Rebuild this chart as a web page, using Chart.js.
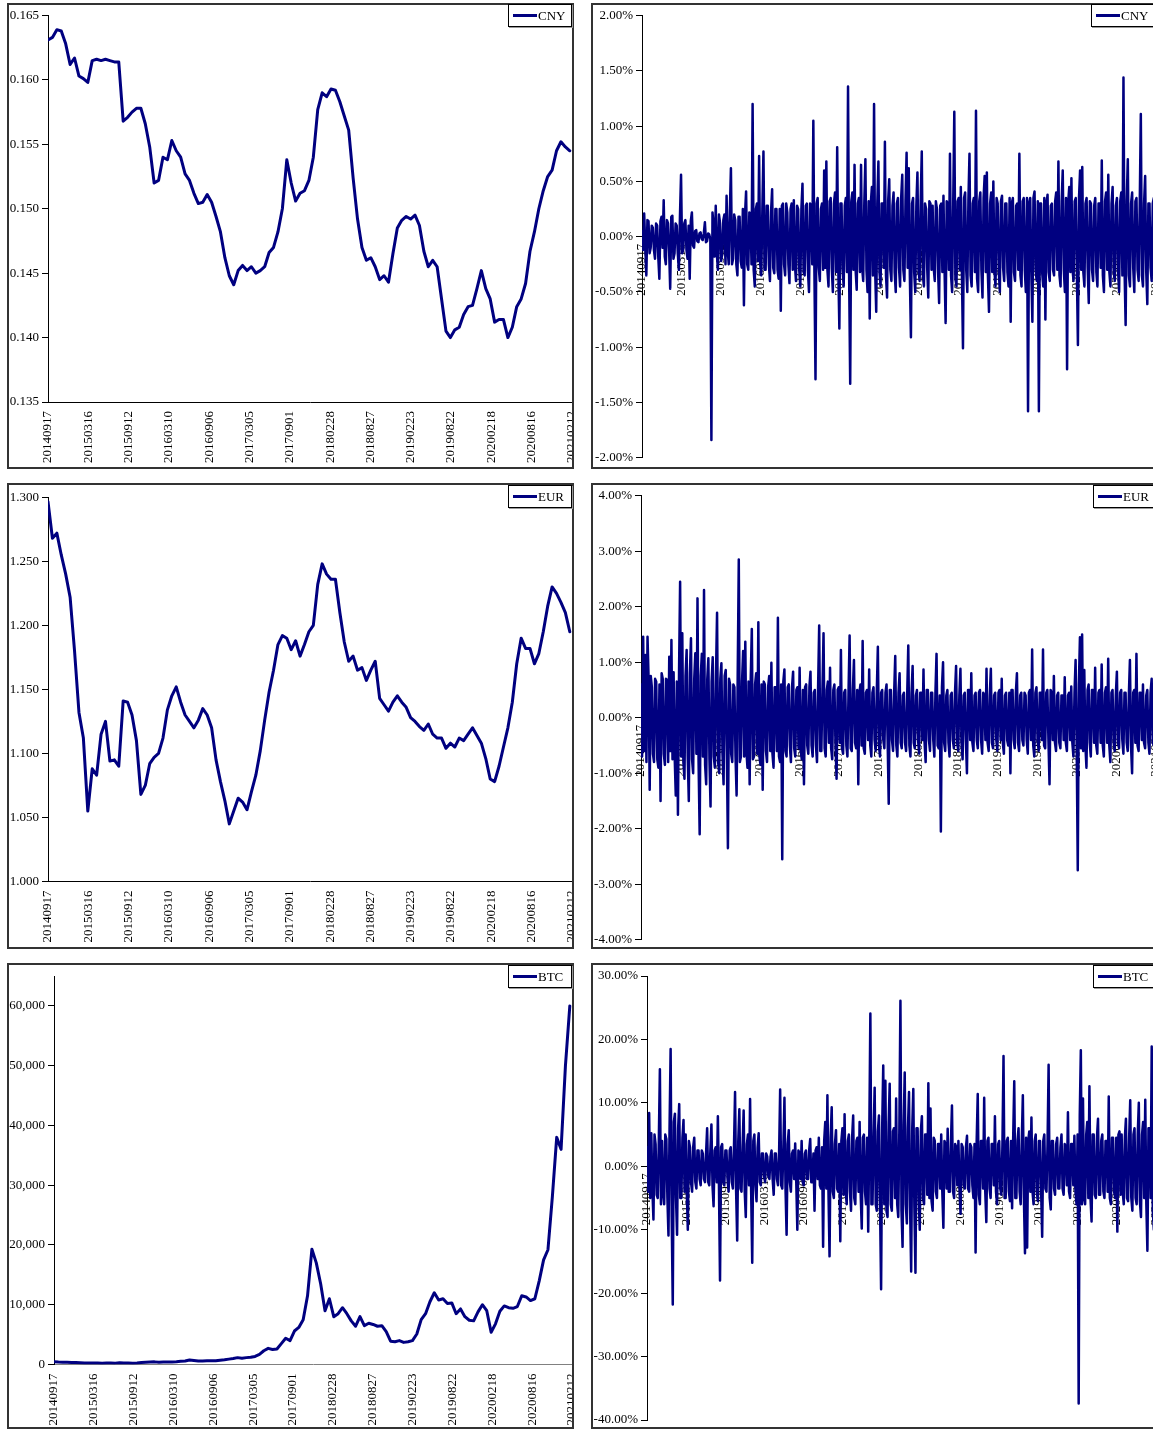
<!DOCTYPE html>
<html>
<head>
<meta charset="utf-8">
<script src="https://cdn.jsdelivr.net/npm/chart.js@4.4.1/dist/chart.umd.min.js"></script>
<style>
html, body { margin: 0; padding: 0; background: #fff; overflow: hidden; width: 1153px; height: 1429px; }
.panel { position: absolute; box-sizing: border-box; width: 567px; height: 466px; border: 2px solid #333; background: #fff; }
.panel canvas { position: absolute; left: 0; top: 0; }
.legend { position: absolute; height: 23px; width: 64px; box-sizing: border-box; border: 1px solid #000; box-shadow: 1px 1px 0 #999; background: #fff; font: 13px 'Liberation Serif', 'Times New Roman', serif; color: #000; white-space: nowrap; }
.legend i { position: absolute; left: 4px; top: 9px; width: 24px; height: 3px; background: #000080; }
.legend span { position: absolute; left: 29px; top: 3px; line-height: 15px; }
</style>
</head>
<body>
<script>
const NAVY = '#000080'

// tick labels of the date axis, one every 180 days
const dateLabels = ['20140917', '20150316', '20150912', '20160310', '20160906', '20170305', '20170901',
    '20180228', '20180827', '20190223', '20190822', '20200218', '20200816', '20210212']
const btcTicks = [0, 10000, 20000, 30000, 40000, 50000, 60000]
const DAY_MAX = 2370
const LEVEL_STEP = 20   // days between level readings
const RET_STEP = 10     // days between return readings (A at day 10i, B at day 10i+5)

const cnyLevel = [0.1631, 0.1633, 0.1639, 0.1638, 0.1628, 0.1612, 0.1617, 0.1603, 0.1601, 0.1598,
    0.1615, 0.1616, 0.1615, 0.1616, 0.1615, 0.1614, 0.1614, 0.1568, 0.1571, 0.1575,
    0.1578, 0.1578, 0.1566, 0.1548, 0.1520, 0.1522, 0.1540, 0.1538, 0.1553, 0.1545,
    0.1540, 0.1527, 0.1522, 0.1512, 0.1504, 0.1505, 0.1511, 0.1505, 0.1494, 0.1482,
    0.1462, 0.1448, 0.1441, 0.1452, 0.1456, 0.1452, 0.1455, 0.1450, 0.1452, 0.1455,
    0.1466, 0.1470, 0.1482, 0.1500, 0.1538, 0.1520, 0.1506, 0.1512, 0.1514, 0.1522,
    0.1540, 0.1577, 0.1590, 0.1587, 0.1593, 0.1592, 0.1583, 0.1572, 0.1561, 0.1524,
    0.1492, 0.1470, 0.1460, 0.1462, 0.1455, 0.1445, 0.1448, 0.1443, 0.1465, 0.1485,
    0.1491, 0.1494, 0.1492, 0.1495, 0.1487, 0.1467, 0.1455, 0.1460, 0.1455, 0.1430,
    0.1405, 0.1400, 0.1406, 0.1408, 0.1418, 0.1424, 0.1425, 0.1438, 0.1452, 0.1438,
    0.1430, 0.1412, 0.1414, 0.1414, 0.1400, 0.1408, 0.1424, 0.1430, 0.1442, 0.1467,
    0.1482, 0.1500, 0.1514, 0.1525, 0.1530, 0.1545, 0.1552, 0.1548, 0.1545]

const eurLevel = [1.2966, 1.268, 1.272, 1.255, 1.240, 1.222, 1.180, 1.132, 1.112, 1.055,
    1.088, 1.083, 1.115, 1.125, 1.094, 1.095, 1.090, 1.141, 1.140, 1.130,
    1.110, 1.068, 1.075, 1.092, 1.097, 1.100, 1.112, 1.134, 1.145, 1.152,
    1.140, 1.130, 1.125, 1.120, 1.126, 1.135, 1.130, 1.120, 1.095, 1.078,
    1.063, 1.045, 1.055, 1.065, 1.062, 1.056, 1.070, 1.083, 1.102, 1.126,
    1.148, 1.165, 1.185, 1.192, 1.190, 1.181, 1.188, 1.176, 1.185, 1.195,
    1.200, 1.232, 1.248, 1.240, 1.236, 1.236, 1.210, 1.187, 1.172, 1.176,
    1.165, 1.167, 1.157, 1.165, 1.172, 1.143, 1.138, 1.133, 1.140, 1.145,
    1.140, 1.136, 1.128, 1.125, 1.121, 1.118, 1.123, 1.115, 1.112, 1.112,
    1.104, 1.108, 1.105, 1.112, 1.110, 1.115, 1.120, 1.114, 1.108, 1.096,
    1.080, 1.078, 1.090, 1.105, 1.120, 1.140, 1.170, 1.190, 1.182, 1.182,
    1.170, 1.178, 1.195, 1.215, 1.230, 1.225, 1.218, 1.210, 1.195]

const btcLevel = [470, 400, 390, 380, 350, 320, 280, 250, 240, 260,
    240, 230, 240, 240, 230, 280, 260, 240, 230, 240,
    330, 370, 420, 440, 380, 420, 420, 430, 450, 530,
    580, 750, 660, 580, 600, 630, 610, 640, 720, 780,
    900, 1000, 1150, 1050, 1150, 1200, 1350, 1700, 2300, 2700,
    2500, 2600, 3500, 4400, 4000, 5600, 6200, 7500, 11500, 19300,
    17000, 13500, 9000, 11000, 8000, 8500, 9500, 8500, 7300, 6400,
    8000, 6500, 6900, 6700, 6400, 6500, 5500, 3900, 3800, 4000,
    3700, 3800, 4000, 5100, 7500, 8500, 10500, 12000, 10800, 11000,
    10200, 10300, 8500, 9300, 8000, 7400, 7300, 8800, 10000, 9000,
    5400, 6800, 8900, 9800, 9500, 9400, 9700, 11500, 11300, 10700,
    11000, 14000, 17500, 19200, 28000, 38000, 36000, 50000, 60000]

// daily returns in percent
const cnyRetA = [0.05, 0.21, -0.35, 0.14, -0.10, 0.08, -0.20, 0.10, -0.38, 0.18,
    0.33, -0.25, 0.12, -0.47, 0.19, -0.15, 0.10, -0.30, 0.56, -0.12,
    0.15, -0.20, -0.38, 0.22, -0.10, 0.06, -0.05, 0.04, -0.03, 0.13,
    -0.04, 0.02, -1.84, 0.10, 0.28, -0.30, 0.12, -0.15, 0.20, 0.37,
    -0.25, 0.62, -0.20, 0.15, -0.35, 0.18, -0.28, -0.62, 0.41, -0.30,
    0.20, 1.20, -0.45, 0.30, 0.73, -0.35, 0.77, -0.30, 0.28, -0.40,
    0.43, -0.33, 0.25, -0.38, -0.67, 0.30, -0.35, 0.22, -0.42, 0.30,
    0.33, -0.40, 0.25, -0.45, 0.48, -0.35, 0.30, -0.50, 0.28, 1.05,
    -1.29, 0.35, -0.40, 0.30, 0.60, 0.68, -0.45, 0.35, -0.50, 0.40,
    0.81, -0.83, 0.30, -0.45, 0.35, 1.36, -1.33, 0.40, 0.65, -0.48,
    0.35, 0.65, -0.40, 0.70, -0.50, -0.74, 0.45, 1.20, -0.68, 0.68,
    -0.45, 0.30, 0.86, -0.55, 0.52, -0.40, 0.40, -0.50, 0.35, -0.45,
    0.56, -0.40, 0.76, 0.62, -0.91, 0.35, -0.50, 0.58, -0.40, 0.77,
    -0.45, 0.25, -0.55, 0.30, 0.28, -0.40, 0.25, -0.60, 0.30, 0.37,
    -0.78, 0.30, 0.75, -0.50, 1.13, -0.45, 0.35, 0.45, -1.01, 0.40,
    -0.50, 0.75, -0.45, 0.35, 1.14, -0.50, 0.40, -0.55, 0.55, 0.58,
    -0.68, 0.40, 0.50, -0.45, 0.30, -0.50, 0.37, -0.40, 0.30, -0.45,
    -0.77, 0.35, -0.40, 0.30, 0.75, -0.45, 0.35, -0.50, -1.58, 0.35,
    -0.77, 0.41, -0.40, -1.58, 0.30, -0.45, -0.75, 0.38, -0.40, 0.30,
    -0.35, 0.40, 0.68, -0.45, 0.60, -0.50, -1.20, 0.45, 0.53, -0.40,
    0.35, -0.98, 0.60, 0.63, -0.45, 0.35, -0.60, 0.30, -0.40, 0.35,
    -0.45, 0.30, 0.69, -0.50, 0.40, 0.56, -0.45, 0.45, -0.40, 0.35,
    -0.50, 0.40, 1.44, -0.80, 0.70, -0.45, 0.40, -0.50, 0.35, -0.40,
    1.11, -0.45, 0.55, -0.61, 0.30, -0.40, 0.35, -0.30]

const cnyRetB = [-0.12, -0.08, 0.15, -0.15, 0.10, -0.12, 0.12, -0.18, 0.14, -0.10,
    -0.18, 0.15, -0.12, 0.18, -0.20, 0.12, -0.15, 0.18, -0.15, 0.12,
    -0.12, 0.10, 0.14, -0.08, 0.05, -0.04, 0.03, -0.02, 0.03, -0.05,
    0.03, -0.02, 0.22, -0.18, -0.15, 0.20, -0.22, 0.15, -0.25, -0.12,
    0.22, -0.25, 0.20, -0.25, 0.18, -0.22, 0.25, 0.20, -0.25, 0.22,
    -0.25, -0.30, 0.25, -0.22, -0.25, 0.25, -0.30, 0.28, -0.25, 0.22,
    -0.28, 0.25, -0.30, 0.25, 0.28, -0.25, 0.30, -0.25, 0.25, -0.30,
    -0.25, 0.28, -0.30, 0.25, -0.32, 0.28, -0.30, 0.30, -0.25, -0.32,
    0.30, -0.28, 0.25, -0.30, -0.28, -0.30, 0.32, -0.28, 0.30, -0.32,
    -0.28, 0.30, -0.30, 0.28, -0.32, -0.35, 0.32, -0.30, -0.30, 0.30,
    -0.32, -0.28, 0.30, -0.30, 0.32, 0.30, -0.35, -0.30, 0.30, -0.32,
    0.30, -0.28, -0.35, 0.32, -0.30, 0.28, -0.32, 0.30, -0.28, 0.35,
    -0.30, 0.32, -0.28, -0.35, 0.30, -0.32, 0.28, -0.30, 0.32, -0.35,
    0.30, -0.28, 0.32, -0.30, -0.28, 0.32, -0.30, 0.28, -0.32, -0.30,
    0.32, -0.30, -0.35, 0.30, -0.38, 0.32, -0.30, -0.32, 0.35, -0.30,
    0.32, -0.35, 0.30, -0.32, -0.38, 0.32, -0.30, 0.35, -0.32, -0.35,
    0.30, -0.32, -0.30, 0.35, -0.30, 0.32, -0.28, 0.30, -0.32, 0.35,
    0.30, -0.32, 0.28, -0.30, -0.35, 0.32, -0.30, 0.35, 0.30, -0.32,
    0.35, -0.30, 0.32, 0.30, -0.32, 0.35, 0.30, -0.32, 0.28, -0.30,
    0.32, -0.30, -0.35, 0.32, -0.30, 0.35, 0.30, -0.32, -0.30, 0.32,
    -0.30, 0.35, -0.30, -0.32, 0.30, -0.28, 0.32, -0.30, 0.28, -0.32,
    0.30, -0.28, -0.35, 0.32, -0.30, -0.32, 0.30, -0.32, 0.28, -0.30,
    0.32, -0.35, -0.30, 0.32, -0.35, 0.30, -0.28, 0.32, -0.30, 0.28,
    -0.35, 0.30, -0.32, 0.30, -0.28, 0.30, -0.25]

const eurRetA = [0.60, 1.46, 1.13, 1.46, -1.30, 0.55, -0.80, 0.65, -0.90, -1.50,
    0.70, -0.85, 0.68, 1.10, 1.40, 0.82, -1.40, -1.75, 2.45, 1.52,
    -1.10, 1.22, -1.50, 1.43, -1.00, 1.16, 2.15, -2.10, 1.15, 2.30,
    -1.20, 1.07, -1.60, 1.09, -0.90, 1.89, -1.00, 0.98, -1.20, 0.86,
    -2.35, 0.60, -0.80, 0.55, -1.40, 2.85, -0.70, 1.20, 1.37, -0.90,
    -1.20, 1.60, -0.70, 0.80, 1.72, -0.85, -1.30, 0.60, -0.80, 0.75,
    0.99, -0.90, 0.55, 1.80, -0.80, -2.55, 0.87, -0.70, 0.60, -0.80,
    0.83, -0.70, 0.55, 0.90, -0.75, -1.20, 0.60, -0.65, 0.83, -0.70,
    0.50, -0.80, 1.66, -0.60, 1.52, -0.70, 0.65, 0.90, -0.75, 0.60,
    -1.10, 0.55, 1.22, -0.65, 0.50, -0.70, 1.48, -0.60, 1.04, -0.55,
    -1.20, 0.60, 1.38, -0.65, 0.50, 0.87, -0.70, 0.55, -0.60, 1.28,
    -0.70, 0.50, -0.55, 0.60, -1.55, 0.50, -0.60, 1.11, -0.70, 0.80,
    -0.55, 0.45, -0.60, 1.30, -0.70, 0.93, -0.55, 0.50, -0.65, 0.45,
    0.87, -0.80, 0.50, -0.60, 0.45, -0.70, 1.15, -0.55, -2.05, 1.00,
    -0.60, 0.50, -0.70, 0.45, -0.55, 0.93, -0.60, 0.88, -0.75, 0.45,
    -1.00, 0.50, 0.80, -0.60, 0.45, -0.55, 0.50, -0.65, 0.40, 0.88,
    -0.60, 0.88, -0.55, 0.45, -0.60, 0.50, 0.70, -0.65, 0.45, -0.50,
    -1.00, 0.50, -0.55, 0.80, -0.60, 0.45, -0.50, 0.40, -0.65, 0.50,
    1.23, -0.70, 0.55, -0.60, 0.45, 1.23, -0.55, 0.50, -1.20, 0.45,
    0.75, -0.60, 0.45, -0.55, 0.40, 0.73, -0.60, 0.45, 0.56, -0.70,
    1.04, -2.75, 1.45, 1.50, 0.86, -0.90, 0.60, -0.70, 0.50, 0.90,
    -0.65, 0.50, 0.96, -0.70, 0.55, 1.06, -0.80, 0.50, -0.60, 0.83,
    -0.55, 0.50, -0.65, 0.45, -0.60, 1.04, -1.00, 0.50, 1.15, -0.60,
    0.45, 0.60, -0.55, 0.50, -0.65, 0.70, -0.50, 0.45]

const eurRetB = [-0.70, -0.60, -0.80, 0.70, 0.75, -0.65, 0.70, -0.75, 0.60, 0.80,
    -0.65, 0.70, -0.80, -0.60, -0.75, -0.70, 0.65, 0.80, -0.70, -0.80,
    0.75, -0.70, 0.80, -0.75, 0.70, -0.65, -0.80, 0.75, -0.70, -0.85,
    0.70, -0.75, 0.65, -0.70, 0.75, -0.80, 0.70, -0.65, 0.75, -0.60,
    0.70, -0.65, 0.60, -0.70, 0.75, -0.80, 0.65, -0.70, -0.60, 0.65,
    0.70, -0.75, 0.60, -0.65, -0.70, 0.60, 0.65, -0.60, 0.55, -0.60,
    -0.65, 0.55, -0.60, -0.70, 0.60, 0.65, -0.60, 0.55, -0.50, 0.55,
    -0.55, 0.50, -0.55, -0.60, 0.50, 0.55, -0.50, 0.55, -0.50, 0.45,
    -0.50, 0.55, -0.60, 0.50, -0.55, 0.50, -0.45, -0.55, 0.50, -0.45,
    0.50, -0.45, -0.55, 0.45, -0.50, 0.45, -0.55, 0.50, -0.45, 0.50,
    0.45, -0.50, -0.55, 0.45, -0.40, -0.50, 0.45, -0.40, 0.45, -0.50,
    0.45, -0.40, 0.45, -0.40, 0.50, -0.40, 0.45, -0.50, 0.45, -0.45,
    0.40, -0.45, 0.40, -0.50, 0.45, -0.45, 0.40, -0.40, 0.45, -0.40,
    -0.45, 0.50, -0.40, 0.45, -0.40, 0.45, -0.50, 0.40, 0.55, -0.45,
    0.40, -0.45, 0.40, -0.40, 0.45, -0.45, 0.40, -0.45, 0.40, -0.40,
    0.50, -0.40, -0.45, 0.40, -0.40, 0.45, -0.40, 0.45, -0.40, -0.45,
    0.40, -0.45, 0.40, -0.40, 0.45, -0.40, -0.45, 0.40, -0.40, 0.45,
    0.50, -0.40, 0.45, -0.45, 0.40, -0.40, 0.45, -0.40, 0.45, -0.40,
    -0.50, 0.45, -0.40, 0.45, -0.40, -0.50, 0.45, -0.40, 0.50, -0.40,
    -0.45, 0.40, -0.45, 0.40, -0.40, -0.45, 0.40, -0.40, -0.45, 0.45,
    -0.50, 0.60, -0.55, -0.60, -0.50, 0.50, -0.45, 0.50, -0.45, -0.50,
    0.45, -0.45, -0.50, 0.45, -0.45, -0.50, 0.45, -0.45, 0.40, -0.45,
    0.45, -0.40, 0.45, -0.45, 0.40, -0.50, 0.45, -0.45, -0.50, 0.45,
    -0.40, -0.45, 0.40, -0.45, 0.45, -0.45, 0.40]

const btcRetA = [3.0, 8.4, 5.2, -8.4, 3.5, -5.0, 15.3, 4.0, -6.0, 4.3,
    -10.9, 18.5, -21.8, 8.3, -10.8, 9.8, -5.0, 7.3, 5.0, -10.0,
    3.0, -4.0, 4.5, -3.5, 2.5, -3.0, 2.0, -2.5, 6.0, -3.0,
    6.6, -6.3, 3.0, 7.9, -18.0, 3.5, -3.0, 2.5, -4.0, 3.0,
    -3.5, 11.7, -11.7, 9.0, -4.0, 8.8, -8.0, 5.0, 10.6, -15.2,
    5.0, -5.5, 5.2, -3.0, 2.0, -2.5, 1.5, -2.0, 2.5, -4.5,
    2.0, -3.0, 12.1, -3.5, 10.8, -10.8, 5.7, -4.0, 2.5, 3.6,
    -10.0, 2.0, 4.0, -3.0, 2.5, -2.0, 4.3, -2.5, -7.0, 3.0,
    4.5, -3.5, -12.7, 7.0, 11.2, -14.2, 9.3, -5.0, 5.7, -4.0,
    -11.8, 6.0, 8.2, -6.0, 5.0, -7.0, 8.0, -6.0, 4.5, 7.0,
    -9.8, 5.0, -6.0, -10.3, 24.1, -6.0, 12.4, -7.0, 8.0, -19.4,
    15.9, 13.5, -8.0, 13.0, -7.0, 6.0, 10.7, -8.0, 26.1, -12.7,
    14.8, -9.0, 11.7, -16.6, 12.2, -16.8, 6.0, -10.0, 7.9, -6.0,
    5.0, 13.1, 9.1, -7.0, 4.0, -5.0, 3.5, 5.0, -9.7, 3.5,
    5.9, -4.0, 9.6, -5.0, 3.0, 4.0, -7.5, 3.0, -3.5, 4.8,
    -4.0, 3.0, -5.0, -13.6, 11.4, -6.0, 4.0, 10.8, -8.8, 4.5,
    -5.0, 3.5, 7.9, -6.0, 4.0, -4.5, 17.4, -5.0, 4.5, -5.5,
    -6.6, 13.4, -5.0, 6.0, -6.0, 11.2, -13.7, -12.8, 5.5, 7.7,
    -6.0, 5.0, -5.5, 4.0, -11.1, 5.0, -4.0, 16.0, -6.8, 4.0,
    -4.5, 4.5, -3.5, 5.0, -4.5, 3.0, 8.5, -5.0, 3.5, 4.8,
    -6.0, -37.4, 18.3, 10.7, -6.0, 7.0, 12.6, -8.7, 5.0, -5.0,
    7.5, -4.5, 5.0, -5.0, 4.0, 11.0, -6.0, 4.5, -5.0, -10.3,
    5.5, 5.0, -6.0, 7.5, -5.5, 10.4, -7.0, 6.0, -6.0, 10.0,
    -8.0, 7.0, 10.5, -13.3, 6.0, 18.9, -10.0, 6.0]

const btcRetB = [-4.0, -5.0, -3.5, 5.0, -4.5, 4.0, -6.0, -4.0, 5.0, -5.0,
    6.0, -8.0, 7.0, -5.0, 6.0, -5.0, 4.5, -4.0, -3.5, 4.0,
    -2.5, 3.0, -2.5, 2.5, -2.0, 2.5, -2.0, 2.0, -2.5, 2.5,
    -3.0, 2.5, -2.5, -3.0, 3.0, -2.5, 2.5, -2.0, 2.5, -2.5,
    3.0, -4.0, 4.0, -3.5, 3.0, -4.0, 3.5, -3.0, -4.0, 4.0,
    -3.0, 3.0, -2.5, 2.0, -1.5, 2.0, -1.5, 1.5, -2.0, 2.0,
    -2.0, 2.0, -3.0, 3.0, -3.5, 3.5, -2.5, 2.0, -2.0, -2.5,
    2.5, -2.0, -2.5, 2.0, -2.0, 2.5, -2.5, 2.0, 2.5, -2.0,
    -3.0, 3.0, 4.0, -3.5, -4.0, 4.5, -4.0, 3.5, -3.5, 3.5,
    4.0, -4.5, -4.0, 4.0, -4.0, 4.5, -5.0, 4.0, -4.0, -4.5,
    4.5, -4.0, 4.5, 5.0, -6.0, 5.0, -6.0, 5.5, -6.0, 6.0,
    -6.0, -7.0, 6.5, -6.0, 5.5, -5.0, -6.0, 6.0, -7.0, 6.5,
    -6.0, 6.0, -6.5, 6.0, -6.5, 6.0, -5.0, 5.5, -5.0, 5.0,
    -4.5, -5.0, -5.5, 4.5, -4.0, 3.5, -3.5, -4.0, 4.0, -3.5,
    -4.0, 3.5, -4.0, 3.5, -3.0, -3.5, 3.5, -3.0, 3.0, -3.5,
    3.5, -3.0, 3.5, 4.0, -4.5, 4.0, -3.5, -4.0, 4.0, -3.5,
    3.5, -3.0, -4.0, 3.5, -3.5, 3.5, -5.0, 4.0, -4.0, 4.0,
    4.5, -5.0, 4.0, -4.0, 4.0, -5.0, 4.5, 4.0, -4.0, -4.0,
    4.0, -4.0, 4.0, -3.5, 4.0, -3.5, 3.5, -5.0, 4.0, -3.5,
    3.5, -3.5, 3.0, -3.5, 3.5, -3.0, -4.0, 3.5, -3.0, -4.0,
    5.0, 8.0, -6.0, -5.0, 5.0, -5.0, -5.0, 5.0, -4.5, 4.5,
    -4.5, 4.0, -4.0, 4.0, -4.0, -5.0, 4.5, -4.0, 4.5, 5.0,
    -4.5, -4.0, 4.5, -5.0, 4.5, -5.0, 5.0, -5.0, 5.0, -5.5,
    5.0, -5.0, -6.0, 6.0, -5.0, -7.0, 5.0]

Chart.defaults.font.family = "'Liberation Serif', 'Times New Roman', serif"
Chart.defaults.font.size = 13
Chart.defaults.color = '#000'

const pct = v => v.toFixed(2) + '%'

function levelPoints(vals) {
    return vals.map((v, i) => ({ x: i * LEVEL_STEP, y: v }))
}

function returnPoints(a, b) {
    const pts = []
    a.forEach((v, i) => {
        pts.push({ x: i * RET_STEP, y: v })
        if (i < b.length) pts.push({ x: i * RET_STEP + RET_STEP / 2, y: b[i] })
    })
    return pts
}

function makePanel(p) {
    const box = document.createElement('div')
    box.className = 'panel'
    box.style.left = p.left + 'px'
    box.style.top = p.top + 'px'
    document.body.appendChild(box)

    const cv = document.createElement('canvas')
    cv.width = 563
    cv.height = 462
    box.appendChild(cv)

    const lg = document.createElement('div')
    lg.className = 'legend'
    lg.style.left = p.legendLeft + 'px'
    lg.style.top = p.legendTop + 'px'
    lg.innerHTML = '<i></i><span>' + p.name + '</span>'
    box.appendChild(lg)

    new Chart(cv, {
        type: 'line',
        data: {
            datasets: [{
                label: p.name,
                data: p.points,
                borderColor: NAVY,
                borderWidth: p.lineWidth,
                borderJoinStyle: 'round',
                borderCapStyle: 'round',
                pointRadius: 0,
                fill: false,
                tension: 0
            }]
        },
        options: {
            responsive: false,
            animation: false,
            devicePixelRatio: 1,
            parsing: false,
            normalized: true,
            events: [],
            layout: { padding: { top: p.padTop, bottom: p.padBottom || 0, left: 0, right: 0 } },
            plugins: { legend: { display: false }, tooltip: { enabled: false } },
            scales: {
                x: {
                    type: 'linear',
                    min: 0,
                    max: DAY_MAX,
                    position: p.zeroAxis ? { y: 0 } : 'bottom',
                    z: p.zeroAxis ? 1 : 0,
                    grid: { display: false, drawTicks: false },
                    border: { display: !p.zeroAxis, color: p.xLine || '#000', width: 1 },
                    ticks: {
                        stepSize: 180,
                        includeBounds: false,
                        autoSkip: false,
                        minRotation: 90,
                        maxRotation: 90,
                        padding: p.zeroAxis ? 7 : 9,
                        color: '#000',
                        callback: v => dateLabels[Math.round(v / 180)]
                    },
                    afterFit: s => {
                        s.paddingLeft = 0
                        s.paddingRight = 0
                        if (!p.zeroAxis) s.height = p.xHeight
                    }
                },
                y: {
                    min: p.min,
                    max: p.max,
                    ticks: {
                        stepSize: p.stepSize,
                        includeBounds: false,
                        autoSkip: false,
                        padding: 3,
                        color: '#000',
                        callback: p.fmt
                    },
                    afterBuildTicks: s => {
                        if (p.tickValues) s.ticks = p.tickValues.map(v => ({ value: v }))
                    },
                    grid: { drawOnChartArea: false, drawTicks: true, tickLength: 6, color: '#000' },
                    border: { display: true, color: '#000', width: 1 },
                    afterFit: s => {
                        s.width = p.yWidth
                        s.paddingTop = 0
                        s.paddingBottom = 0
                    }
                }
            }
        }
    })
}

makePanel({ name: 'CNY', points: levelPoints(cnyLevel), lineWidth: 3, left: 7, top: 3, legendLeft: 499, legendTop: -1,
    min: 0.135, max: 0.165, stepSize: 0.005, fmt: v => v.toFixed(3), yWidth: 39, padTop: 10.5, xHeight: 65 })
makePanel({ name: 'CNY', points: returnPoints(cnyRetA, cnyRetB), lineWidth: 2.5, left: 591, top: 3, legendLeft: 498, legendTop: -1,
    min: -2, max: 2, stepSize: 0.5, fmt: pct, yWidth: 49, padTop: 10.7, padBottom: 9.3, zeroAxis: true })
makePanel({ name: 'EUR', points: levelPoints(eurLevel), lineWidth: 3, left: 7, top: 483, legendLeft: 499, legendTop: 0,
    min: 1.0, max: 1.3, stepSize: 0.05, fmt: v => v.toFixed(3), yWidth: 39, padTop: 12.3, xHeight: 65.5 })
makePanel({ name: 'EUR', points: returnPoints(eurRetA, eurRetB), lineWidth: 2.5, left: 591, top: 483, legendLeft: 500, legendTop: 0,
    min: -4, max: 4, stepSize: 1, fmt: pct, yWidth: 48, padTop: 10.7, padBottom: 7.3, zeroAxis: true })
makePanel({ name: 'BTC', points: levelPoints(btcLevel), lineWidth: 3, left: 7, top: 963, legendLeft: 499, legendTop: 0,
    min: 0, max: 65000, stepSize: 10000, tickValues: btcTicks, fmt: v => v.toLocaleString('en-US'),
    yWidth: 45, padTop: 11, xHeight: 62.5, xLine: '#808080' })
makePanel({ name: 'BTC', points: returnPoints(btcRetA, btcRetB), lineWidth: 2.5, left: 591, top: 963, legendLeft: 500, legendTop: 0,
    min: -40, max: 30, stepSize: 10, fmt: pct, yWidth: 54, padTop: 11, padBottom: 7, zeroAxis: true })
</script>
</body>
</html>
